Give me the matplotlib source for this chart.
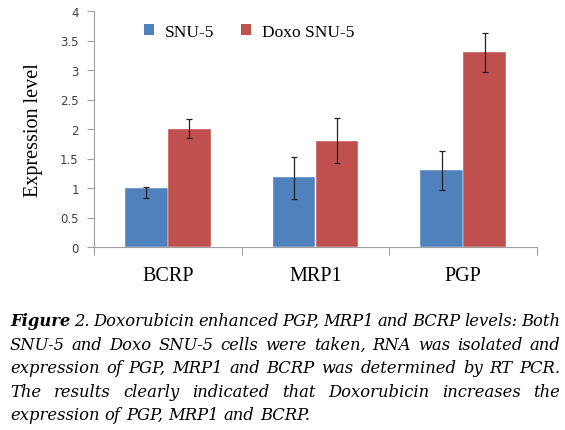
import matplotlib
matplotlib.use("Agg")
import matplotlib.pyplot as plt
from matplotlib.patches import Patch
import numpy as np

categories = ["BCRP", "MRP1", "PGP"]
series_names = ["SNU-5", "Doxo SNU-5"]
snu5 = [1.0, 1.19, 1.30]
snu5_err_low = [0.17, 0.38, 0.33]
snu5_err_high = [0.02, 0.33, 0.32]
doxo = [2.0, 1.80, 3.30]
doxo_err_low = [0.16, 0.38, 0.33]
doxo_err_high = [0.17, 0.39, 0.32]
yticks = [0, 0.5, 1, 1.5, 2, 2.5, 3, 3.5, 4]
ytick_labels = ["0", "0.5", "1", "1.5", "2", "2.5", "3", "3.5", "4"]
caption_lines = [
    "Figure 2. Doxorubicin enhanced PGP, MRP1 and BCRP levels: Both",
    "SNU-5 and Doxo SNU-5 cells were taken, RNA was isolated and",
    "expression of PGP, MRP1 and BCRP was determined by RT PCR.",
    "The results clearly indicated that Doxorubicin increases the",
    "expression of PGP, MRP1 and BCRP.",
]

W, H = 565, 431
fig = plt.figure(figsize=(W / 100, H / 100), dpi=100)
ax = fig.add_axes([94 / W, (H - 248) / H, (537 - 94) / W, (248 - 12) / H])

blue = "#4F81BD"
red = "#C0504D"
x = np.arange(len(categories))
bw = 0.29
ax.bar(x - bw / 2, snu5, bw, color=blue, edgecolor="white", linewidth=0.3,
       yerr=[snu5_err_low, snu5_err_high], ecolor="#222222",
       error_kw=dict(elinewidth=0.9, capsize=2.5, capthick=0.9))
ax.bar(x + bw / 2, doxo, bw, color=red, edgecolor="white", linewidth=0.3,
       yerr=[doxo_err_low, doxo_err_high], ecolor="#222222",
       error_kw=dict(elinewidth=0.9, capsize=2.5, capthick=0.9))

ax.set_xlim(-0.5, 2.5)
ax.set_ylim(0, 4)
ax.set_yticks(yticks)
ax.set_yticklabels(ytick_labels, fontsize=8.5, color="#404040", family="DejaVu Sans")
ax.set_xticks([-0.5, 0.5, 1.5, 2.5])
ax.set_xticklabels([])
ax.set_xticks(x, minor=True)
ax.set_xticklabels(categories, minor=True, fontsize=14.5, family="Liberation Serif")
ax.tick_params(axis="x", which="minor", length=0, pad=14)
ax.tick_params(axis="x", which="major", length=6, color="#a0a0a0")
ax.tick_params(axis="y", length=5, color="#a0a0a0", pad=6)
for s in ["top", "right"]:
    ax.spines[s].set_visible(False)
for s in ["left", "bottom"]:
    ax.spines[s].set_color("#a0a0a0")
ax.set_ylabel("Expression level", fontsize=14.5, family="Liberation Serif")
ax.yaxis.set_label_coords(-(94 - 33 - 10) / (537 - 94), 0.5)

handles = [Patch(facecolor=blue, label=series_names[0]),
           Patch(facecolor=red, label=series_names[1])]
ax.legend(handles=handles, loc="center left", bbox_to_anchor=(34 / 443, (248 - 33) / 236),
          ncol=2, frameon=False, handlelength=0.6, handleheight=0.6,
          handletextpad=0.65, columnspacing=1.5,
          prop=dict(family="Liberation Serif", size=12.5))

# Justified caption
renderer = fig.canvas.get_renderer()
left_px, right_px = 10, 560
baselines = [326, 350, 373, 397, 420]
fs = 11.8
cap_family = "DejaVu Serif"


def make_word(word, bold=False):
    t = fig.text(0, 0, word, fontsize=fs, family=cap_family, style="italic",
                 weight="bold" if bold else "normal", va="baseline", ha="left",
                 transform=None)
    return t

space_t = fig.text(0, 0, "a a", fontsize=fs, family=cap_family, style="italic")
aa_t = fig.text(0, 0, "aa", fontsize=fs, family=cap_family, style="italic")
space_w = space_t.get_window_extent(renderer).width - aa_t.get_window_extent(renderer).width
space_t.remove()
aa_t.remove()

for li, line in enumerate(caption_lines):
    words = line.split(" ")
    texts = []
    for wi, w in enumerate(words):
        texts.append(make_word(w, bold=(li == 0 and wi == 0)))
    widths = [t.get_window_extent(renderer).width for t in texts]
    if li < len(caption_lines) - 1:
        gap = (right_px - left_px - sum(widths)) / (len(words) - 1)
    else:
        gap = space_w
    xp = left_px
    yp = H - baselines[li]
    for t, wd in zip(texts, widths):
        t.set_position((xp, yp))
        xp += wd + gap

fig.savefig("out.png", dpi=100)
